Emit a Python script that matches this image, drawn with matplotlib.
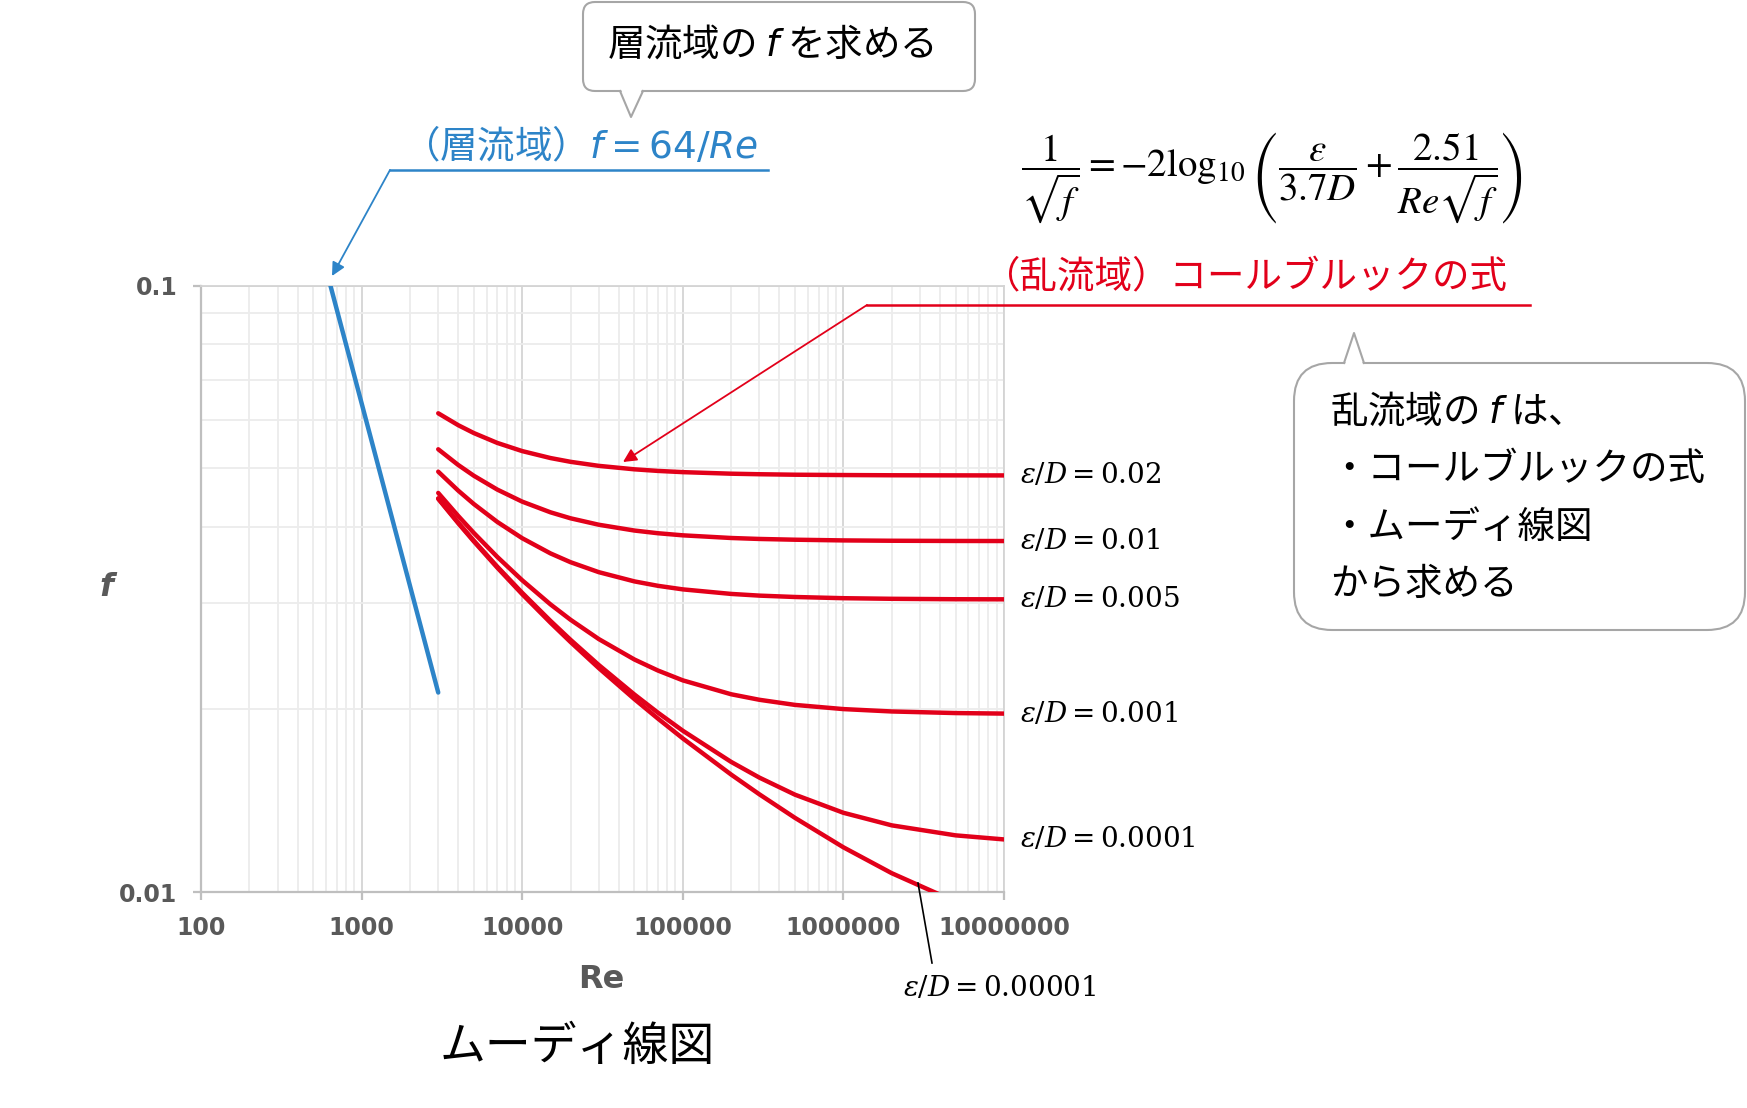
import matplotlib
matplotlib.use("Agg")
import matplotlib.pyplot as plt
from matplotlib.patches import FancyBboxPatch, Polygon
from matplotlib.ticker import FixedLocator, NullFormatter, LogLocator

# ---------------- data ----------------
re_laminar = [640, 1000, 2000, 3000]
f_laminar = [0.1, 0.064, 0.032, 0.02133]

re_turb = [3000, 4000, 5000, 7000, 1e4, 1.5e4, 2e4, 3e4, 5e4, 7e4, 1e5, 2e5, 3e5, 5e5,
           1e6, 2e6, 5e6, 1e7]
f_rough_002 = [0.06160, 0.05887, 0.05714, 0.05504, 0.05336, 0.05197, 0.05123, 0.05045, 0.04979,
               0.04949, 0.04926, 0.04897, 0.04887, 0.04878, 0.04872, 0.04868, 0.04866, 0.04865]
f_rough_001 = [0.05373, 0.05061, 0.04859, 0.04610, 0.04404, 0.04229, 0.04134, 0.04034, 0.03946,
               0.03906, 0.03875, 0.03836, 0.03822, 0.03811, 0.03801, 0.03796, 0.03793, 0.03792]
f_rough_0005 = [0.04935, 0.04591, 0.04364, 0.04077, 0.03833, 0.03618, 0.03499, 0.03369, 0.03253,
                0.03199, 0.03156, 0.03102, 0.03082, 0.03066, 0.03052, 0.03045, 0.03040, 0.03039]
f_rough_0001 = [0.04552, 0.04170, 0.03910, 0.03570, 0.03267, 0.02981, 0.02812, 0.02613, 0.02418,
                0.02319, 0.02234, 0.02119, 0.02075, 0.02035, 0.02003, 0.01985, 0.01973, 0.01969]
f_rough_00001 = [0.04460, 0.04067, 0.03797, 0.03440, 0.03115, 0.02800, 0.02606, 0.02368, 0.02117,
                 0.01976, 0.01845, 0.01639, 0.01544, 0.01447, 0.01351, 0.01288, 0.01240, 0.01221]
f_rough_000001 = [0.04451, 0.04056, 0.03786, 0.03427, 0.03099, 0.02781, 0.02584, 0.02340, 0.02080,
                  0.01932, 0.01792, 0.01562, 0.01449, 0.01325, 0.01185, 0.01074, 0.00964, 0.00906]

turb_series = [f_rough_002, f_rough_001, f_rough_0005, f_rough_0001, f_rough_00001, f_rough_000001]
turb_labels = ["0.02", "0.01", "0.005", "0.001", "0.0001", "0.00001"]

x_ticks = [1e2, 1e3, 1e4, 1e5, 1e6, 1e7]
x_ticklabels = ["100", "1000", "10000", "100000", "1000000", "10000000"]
y_ticks = [0.01, 0.1]
y_ticklabels = ["0.01", "0.1"]

title_text = "ムーディ線図"
top_box_text = "層流域の $f$ を求める"
laminar_text = "（層流域）$f=64/Re$"
turb_text = "（乱流域）コールブルックの式"
right_box_lines = ["乱流域の $f$ は、", "・コールブルックの式", "・ムーディ線図", "から求める"]
formula = r"$\dfrac{1}{\sqrt{f}}=-2\log_{10}\left(\dfrac{\varepsilon}{3.7D}+\dfrac{2.51}{Re\sqrt{f}}\right)$"

# ---------------- style ----------------
W, H = 1747, 1108
RED = "#E2001A"
BLUE = "#2D84C8"
GRAY_TXT = "#595959"
JP = ["Noto Sans CJK JP", "DejaVu Sans"]

plt.rcParams["font.family"] = JP

fig = plt.figure(figsize=(W / 100, H / 100), dpi=100)
fig.patch.set_facecolor("white")

L, R, T, B = 201, 1004, 285.7, 892
ax = fig.add_axes([L / W, 1 - B / H, (R - L) / W, (B - T) / H], zorder=1)
ax.set_xscale("log")
ax.set_yscale("log")
ax.set_xlim(1e2, 1e7)
ax.set_ylim(0.01, 0.1)

ax.xaxis.set_major_locator(FixedLocator(x_ticks))
ax.set_xticklabels(x_ticklabels)
ax.yaxis.set_major_locator(FixedLocator(y_ticks))
ax.set_yticklabels(y_ticklabels)
ax.xaxis.set_minor_locator(LogLocator(base=10, subs=range(2, 10), numticks=20))
ax.yaxis.set_minor_locator(LogLocator(base=10, subs=range(2, 10), numticks=20))
ax.xaxis.set_minor_formatter(NullFormatter())
ax.yaxis.set_minor_formatter(NullFormatter())

ax.grid(which="major", color="#d4d4d4", lw=1.3)
ax.grid(which="minor", color="#ececec", lw=1.3)
ax.set_axisbelow(True)
for s in ["top", "right"]:
    ax.spines[s].set_color("#d4d4d4")
    ax.spines[s].set_linewidth(1.3)
for s in ["left", "bottom"]:
    ax.spines[s].set_color("#bfbfbf")
    ax.spines[s].set_linewidth(1.6)
ax.tick_params(which="major", direction="out", length=6, width=1.6, color="#bfbfbf",
               labelcolor=GRAY_TXT, labelsize=17)
ax.tick_params(which="minor", length=0)
ax.tick_params(axis="x", pad=11)
ax.tick_params(axis="y", pad=11)
for lab in ax.get_xticklabels() + ax.get_yticklabels():
    lab.set_fontfamily("DejaVu Sans")
    lab.set_fontweight("bold")

ax.plot(re_laminar, f_laminar, color=BLUE, lw=3.2, solid_capstyle="round", zorder=3)
for fs in turb_series:
    ax.plot(re_turb, fs, color=RED, lw=3.2, solid_capstyle="round",
            solid_joinstyle="round", zorder=3)

# eps/D labels at curve ends
for fs, lab in zip(turb_series[:5], turb_labels[:5]):
    ax.text(1e7 * 1.26, fs[-1], r"$\varepsilon/D=%s$" % lab, math_fontfamily="dejavuserif",
            fontsize=20, va="center", ha="left", color="black", clip_on=False)

# ---------------- overlay (pixel coordinates) ----------------
ov = fig.add_axes([0, 0, 1, 1], zorder=3)
ov.set_xlim(0, W)
ov.set_ylim(H, 0)
ov.axis("off")
ov.patch.set_alpha(0)

# axis labels and title
ov.text(601, 979, "Re", fontfamily="DejaVu Sans", fontweight="bold", fontsize=23,
        color=GRAY_TXT, ha="center", va="center")
ov.text(106, 587, "f", fontfamily="DejaVu Sans", fontweight="bold", fontstyle="italic",
        fontsize=23, color=GRAY_TXT, ha="center", va="center")
ov.text(577, 1047, title_text, fontsize=33, ha="center", va="center", color="black")

# top callout box
BOXC = "#A6A6A6"
ov.add_patch(FancyBboxPatch((583, 2), 392, 89, boxstyle="round,pad=0,rounding_size=12",
                            fc="white", ec=BOXC, lw=1.5, zorder=2))
ov.add_patch(Polygon([(620.5, 88), (631, 117), (642.5, 88)], closed=True, fc="white",
                     ec="none", zorder=3))
ov.plot([620, 631, 643], [91, 117, 91], color=BOXC, lw=1.5, zorder=4)
ov.text(607, 45, top_box_text, fontsize=27, ha="left", va="center", color="black",
        math_fontfamily="dejavusans", zorder=5)

# right callout box
ov.add_patch(FancyBboxPatch((1294, 363), 451, 267, boxstyle="round,pad=0,rounding_size=38",
                            fc="white", ec=BOXC, lw=1.5, zorder=2))
ov.add_patch(Polygon([(1344.5, 366), (1354, 333), (1363.5, 366)], closed=True, fc="white",
                     ec="none", zorder=3))
ov.plot([1344, 1354, 1364], [363, 333, 363], color=BOXC, lw=1.5, zorder=4)
for i, line in enumerate(right_box_lines):
    ov.text(1330, 412 + 57.5 * i, line, fontsize=27, ha="left", va="center", color="black",
            math_fontfamily="dejavusans", zorder=5)

# laminar annotation
ov.text(402, 146, laminar_text, fontsize=27, ha="left", va="center", color=BLUE,
        math_fontfamily="dejavusans")
ov.plot([390, 768], [170, 170], color=BLUE, lw=1.8)
ov.annotate("", xy=(332, 276), xytext=(390, 170),
            arrowprops=dict(arrowstyle="-|>", color=BLUE, lw=1.3, mutation_scale=20,
                            shrinkA=0, shrinkB=0))

# turbulent annotation
ov.text(983, 278, turb_text, fontsize=27, ha="left", va="center", color=RED)
ov.plot([867, 1530], [305, 305], color=RED, lw=1.8)
ov.annotate("", xy=(623, 462), xytext=(867, 305),
            arrowprops=dict(arrowstyle="-|>", color=RED, lw=1.3, mutation_scale=20,
                            shrinkA=0, shrinkB=0))

# Colebrook formula
ov.text(1021, 178, formula, fontsize=28, ha="left", va="center", color="black",
        math_fontfamily="stix")

# eps/D = 0.00001 label with leader
ov.plot([932, 918], [963, 883], color="black", lw=1.2)
ov.text(903, 988, r"$\varepsilon/D=%s$" % turb_labels[5], math_fontfamily="dejavuserif",
        fontsize=20, ha="left", va="center", color="black")

fig.savefig("out.png", dpi=100, facecolor="white")
